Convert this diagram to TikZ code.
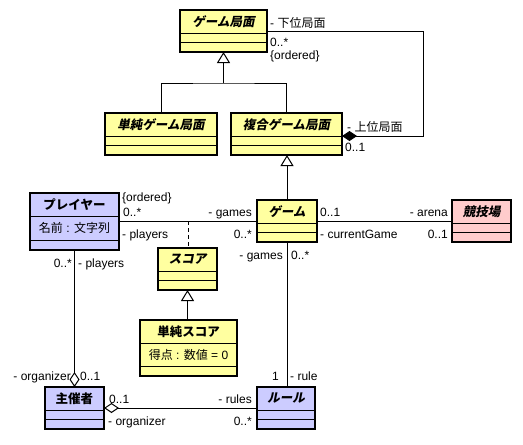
\documentclass[tikz,border=0pt]{standalone}
\usepackage{fontspec}
\setmainfont{Liberation Sans}
\newfontfamily\jp{Noto Sans CJK JP}
\newfontfamily\jpi{Noto Sans CJK JP}[FakeSlant=0.2]
\usetikzlibrary{arrows.meta}
\definecolor{cy}{RGB}{255,255,160}
\definecolor{cb}{RGB}{204,204,255}
\definecolor{cp}{RGB}{255,204,204}
\tikzset{
  box/.style={draw,line width=2pt,outer sep=0pt,inner sep=0pt},
  sep/.style={line width=1pt},
  conn/.style={line width=1pt},
  gen/.style={conn,-{Triangle[open,length=11pt,width=13pt,line width=1pt]}},
  agg/.style={conn,-{Diamond[open,length=15pt,width=10pt,line width=1pt]}},
  comp/.style={conn,-{Diamond[length=15pt,width=10pt]}},
  lbl/.style={inner sep=0pt,font=\fontsize{12}{14}\selectfont},
  ttl/.style={inner sep=0pt,font=\jp\bfseries\fontsize{12.5}{14}\selectfont},
  ttli/.style={inner sep=0pt,font=\jpi\bfseries\fontsize{12.5}{14}\selectfont},
  att/.style={inner sep=0pt,font=\fontsize{12}{14}\selectfont},
}
\newcommand\cls[8]{%
  \node[box,fill=#6,minimum width=#4pt,minimum height=#5pt,anchor=north west] (#1) at (#2,#3) {};
  \draw[sep] ([yshift=-#7pt]#1.north west) -- ([yshift=-#7pt]#1.north east);
  \draw[sep] ([yshift=-#8pt]#1.north west) -- ([yshift=-#8pt]#1.north east);
}
\begin{document}
\begin{tikzpicture}[x=1pt,y=-1pt]
\useasboundingbox[fill=white] (0,0) rectangle (523,445);
% classes
\cls{gk}{180}{10}{87}{42}{cy}{23}{32}
\cls{sgk}{105}{113}{112}{42}{cy}{23}{32}
\cls{cgk}{231}{113}{111}{42}{cy}{23}{32}
\cls{pl}{30}{193}{89}{57}{cb}{23}{47}
\cls{game}{257}{200}{60}{42}{cy}{23}{32}
\cls{ar}{452}{200}{59}{42}{cp}{23}{32}
\cls{sc}{158}{248}{59}{42}{cy}{23}{32}
\cls{ssc}{140}{320}{97}{56}{cy}{23}{46}
\cls{org}{45}{387}{59}{42}{cb}{23}{32}
\cls{rule}{257}{387}{58}{42}{cb}{23}{32}
% titles
\node[ttli] (gkT) at ([yshift=-11.5pt]gk.north) {ゲーム局面};
\node[ttli] (sgkT) at ([yshift=-11.5pt]sgk.north) {単純ゲーム局面};
\node[ttli] (cgkT) at ([yshift=-11.5pt]cgk.north) {複合ゲーム局面};
\node[ttl] (plT) at ([yshift=-11.5pt]pl.north) {プレイヤー};
\node[att] (plA) at ([yshift=-35pt]pl.north) {{\jp 名前} : {\jp 文字列}};
\node[ttli] (gameT) at ([yshift=-11.5pt]game.north) {ゲーム};
\node[ttli] (arT) at ([yshift=-11.5pt]ar.north) {競技場};
\node[ttli] (scT) at ([yshift=-11.5pt]sc.north) {スコア};
\node[ttl] (sscT) at ([yshift=-11.5pt]ssc.north) {単純スコア};
\node[att] (sscA) at ([yshift=-35pt]ssc.north) {{\jp 得点} : {\jp 数値} = 0};
\node[ttl] (orgT) at ([yshift=-11.5pt]org.north) {主催者};
\node[ttli] (ruleT) at ([yshift=-11.5pt]rule.north) {ルール};
% connectors
\coordinate (bus) at (223.5,83);
\coordinate (cr) at (423,31);
\draw[conn] (sgk.north) |- (bus) -| (cgk.north);
\draw[gen] (gk.south |- bus) -- (gk.south);
\draw[comp] (gk.east) -- (gk.east -| cr) -- ([yshift=-2pt]cr |- cgk.east) -- ([yshift=-2pt]cgk.east);
\draw[gen] (game.north) -- (game.north |- cgk.south);
\draw[conn] (pl.east |- game.west) -- (game.west);
\coordinate (dj) at (188,221);
\draw[conn,dashed,dash pattern=on 4pt off 3pt] (dj) -- (dj |- sc.north);
\draw[conn] (game.east) -- (ar.west);
\draw[gen] (ssc.north -| sc.south) -- (sc.south);
\draw[conn] (game.south) -- (game.south |- rule.north);
\draw[agg] (pl.south -| org.north) -- (org.north);
\draw[agg] (rule.west |- org.east) -- (org.east);
% labels
\node[lbl,anchor=base west] (l1) at (270,27) {- {\jp 下位局面}};
\node[lbl,anchor=base west] (l2) at (270,46) {0..*};
\node[lbl,anchor=base west] (l3) at (270,59) {\{ordered\}};
\node[lbl,anchor=base west] (l4) at (347,131) {- {\jp 上位局面}};
\node[lbl,anchor=base west] (l5) at (345,151) {0..1};
\node[lbl,anchor=base west] (l6) at (122,201) {\{ordered\}};
\node[lbl,anchor=base west] (l7) at (123,216) {0..*};
\node[lbl,anchor=base east] (l8) at (252,216) {- games};
\node[lbl,anchor=base west] (l9) at (122,238) {- players};
\node[lbl,anchor=base east] (l10) at (252,238) {0..*};
\node[lbl,anchor=base west] (l11) at (320,216) {0..1};
\node[lbl,anchor=base east] (l12) at (448,216) {- arena};
\node[lbl,anchor=base west] (l13) at (320,238) {- currentGame};
\node[lbl,anchor=base east] (l14) at (448,238) {0..1};
\node[lbl,anchor=base east] (l15) at (72,267) {0..*};
\node[lbl,anchor=base west] (l16) at (78,267) {- players};
\node[lbl,anchor=base east] (l17) at (283,259) {- games};
\node[lbl,anchor=base west] (l18) at (291,259) {0..*};
\node[lbl,anchor=base east] (l19) at (71,380) {- organizer};
\node[lbl,anchor=base west] (l20) at (80,380) {0..1};
\node[lbl,anchor=base east] (l21) at (279,380) {1};
\node[lbl,anchor=base west] (l22) at (290,380) {- rule};
\node[lbl,anchor=base west] (l23) at (109,403) {0..1};
\node[lbl,anchor=base east] (l24) at (252,403) {- rules};
\node[lbl,anchor=base west] (l25) at (108,425) {- organizer};
\node[lbl,anchor=base east] (l26) at (252,425) {0..*};
\end{tikzpicture}
\end{document}
